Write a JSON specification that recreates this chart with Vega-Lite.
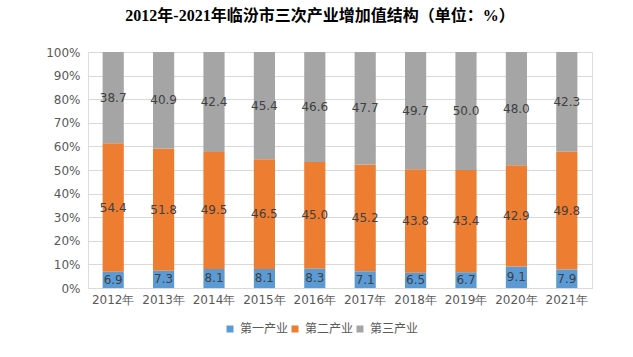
{
  "$schema": "https://vega.github.io/schema/vega-lite/v6.json",
  "width": 504,
  "height": 236,
  "autosize": {"type": "none"},
  "padding": {"left": 88, "top": 52, "right": 41, "bottom": 69},
  "background": "white",
  "title": {
    "text": "2012年-2021年临汾市三次产业增加值结构（单位：%）",
    "font": "Liberation Serif, Noto Sans CJK SC",
    "fontSize": 16,
    "fontWeight": "bold",
    "color": "#000000",
    "anchor": "middle",
    "frame": "group",
    "dx": -20,
    "offset": 22
  },
  "data": {
    "values": [
      {"year": "2012年", "sector": "第一产业", "order": 1, "value": 6.9},
      {"year": "2012年", "sector": "第二产业", "order": 2, "value": 54.4},
      {"year": "2012年", "sector": "第三产业", "order": 3, "value": 38.7},
      {"year": "2013年", "sector": "第一产业", "order": 1, "value": 7.3},
      {"year": "2013年", "sector": "第二产业", "order": 2, "value": 51.8},
      {"year": "2013年", "sector": "第三产业", "order": 3, "value": 40.9},
      {"year": "2014年", "sector": "第一产业", "order": 1, "value": 8.1},
      {"year": "2014年", "sector": "第二产业", "order": 2, "value": 49.5},
      {"year": "2014年", "sector": "第三产业", "order": 3, "value": 42.4},
      {"year": "2015年", "sector": "第一产业", "order": 1, "value": 8.1},
      {"year": "2015年", "sector": "第二产业", "order": 2, "value": 46.5},
      {"year": "2015年", "sector": "第三产业", "order": 3, "value": 45.4},
      {"year": "2016年", "sector": "第一产业", "order": 1, "value": 8.3},
      {"year": "2016年", "sector": "第二产业", "order": 2, "value": 45.0},
      {"year": "2016年", "sector": "第三产业", "order": 3, "value": 46.6},
      {"year": "2017年", "sector": "第一产业", "order": 1, "value": 7.1},
      {"year": "2017年", "sector": "第二产业", "order": 2, "value": 45.2},
      {"year": "2017年", "sector": "第三产业", "order": 3, "value": 47.7},
      {"year": "2018年", "sector": "第一产业", "order": 1, "value": 6.5},
      {"year": "2018年", "sector": "第二产业", "order": 2, "value": 43.8},
      {"year": "2018年", "sector": "第三产业", "order": 3, "value": 49.7},
      {"year": "2019年", "sector": "第一产业", "order": 1, "value": 6.7},
      {"year": "2019年", "sector": "第二产业", "order": 2, "value": 43.4},
      {"year": "2019年", "sector": "第三产业", "order": 3, "value": 50.0},
      {"year": "2020年", "sector": "第一产业", "order": 1, "value": 9.1},
      {"year": "2020年", "sector": "第二产业", "order": 2, "value": 42.9},
      {"year": "2020年", "sector": "第三产业", "order": 3, "value": 48.0},
      {"year": "2021年", "sector": "第一产业", "order": 1, "value": 7.9},
      {"year": "2021年", "sector": "第二产业", "order": 2, "value": 49.8},
      {"year": "2021年", "sector": "第三产业", "order": 3, "value": 42.3}
    ]
  },
  "transform": [
    {"stack": "value", "groupby": ["year"], "sort": [{"field": "order", "order": "ascending"}], "offset": "normalize", "as": ["y0", "y1"]}
  ],
  "config": {
    "axisY": {
      "format": ".0%",
      "values": [0, 0.1, 0.2, 0.3, 0.4, 0.5, 0.6, 0.7, 0.8, 0.9, 1],
      "gridColor": "#D9D9D9",
      "domain": false,
      "ticks": false,
      "labelPadding": 8,
      "labelColor": "#595959",
      "labelFont": "DejaVu Sans",
      "labelFontSize": 12
    }
  },
  "encoding": {
    "x": {
      "field": "year",
      "type": "nominal",
      "sort": null,
      "scale": {"paddingInner": 0.58, "paddingOuter": 0.29},
      "axis": {
        "title": null,
        "labelAngle": 0,
        "ticks": false,
        "domainColor": "#D9D9D9",
        "labelColor": "#595959",
        "labelFont": "DejaVu Sans",
        "labelFontSize": 12,
        "labelPadding": 6
      }
    }
  },
  "layer": [
    {
      "mark": {"type": "bar"},
      "encoding": {
        "y": {
          "field": "y0",
          "type": "quantitative",
          "title": null,
          "scale": {"domain": [0, 1]},
          "axis": {
            "title": null,
            "format": ".0%",
            "values": [0, 0.1, 0.2, 0.3, 0.4, 0.5, 0.6, 0.7, 0.8, 0.9, 1]
          }
        },
        "y2": {"field": "y1"},
        "color": {
          "field": "sector",
          "type": "nominal",
          "sort": ["第一产业", "第二产业", "第三产业"],
          "scale": {"domain": ["第一产业", "第二产业", "第三产业"], "range": ["#5B9BD5", "#ED7D31", "#A5A5A5"]},
          "legend": {
            "title": null,
            "orient": "none",
            "direction": "horizontal",
            "legendX": 136,
            "legendY": 271,
            "symbolType": "square",
            "symbolSize": 49,
            "symbolStrokeWidth": 0,
            "symbolOffset": 0,
            "labelOffset": 4,
            "columnPadding": 0,
            "labelFont": "Noto Sans CJK SC",
            "labelFontSize": 12,
            "labelColor": "#595959"
          }
        }
      }
    },
    {
      "transform": [
        {"fold": ["y0", "y1"], "as": ["edge", "pos"]},
        {"aggregate": [{"op": "mean", "field": "pos", "as": "mid"}], "groupby": ["year", "sector", "value"]}
      ],
      "mark": {"type": "text", "baseline": "middle", "font": "DejaVu Sans", "fontSize": 12, "color": "#404040"},
      "encoding": {
        "y": {
          "field": "mid",
          "type": "quantitative",
          "title": null,
          "axis": {
            "title": null,
            "format": ".0%",
            "values": [0, 0.1, 0.2, 0.3, 0.4, 0.5, 0.6, 0.7, 0.8, 0.9, 1]
          }
        },
        "text": {"field": "value", "type": "quantitative", "format": ".1f"}
      }
    }
  ]
}
